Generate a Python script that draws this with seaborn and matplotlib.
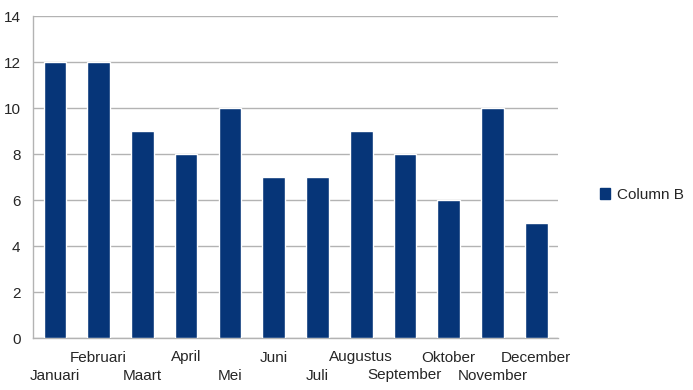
import numpy as np
import pandas as pd
import matplotlib
matplotlib.use('Agg')
import matplotlib.pyplot as plt
import matplotlib.transforms as mtrans
import seaborn as sns
from matplotlib.patches import Patch

# Data
maanden = ['Januari', 'Februari', 'Maart', 'April', 'Mei', 'Juni', 'Juli',
           'Augustus', 'September', 'Oktober', 'November', 'December']
waarden = [12, 12, 9, 8, 10, 7, 7, 9, 8, 6, 10, 5]
y_ticks = [0, 2, 4, 6, 8, 10, 12, 14]

df = pd.DataFrame({'maand': maanden, 'waarde': waarden})

sns.set_style('white')
plt.rcParams['font.family'] = ['Liberation Sans', 'DejaVu Sans']

bar_color = '#063578'
grid_color = '#b3b3b3'

fig = plt.figure(figsize=(6.93, 3.90), dpi=100)
ax = fig.add_axes([33 / 693, 1 - 338 / 390, (558 - 33) / 693, (338 - 16) / 390])

sns.barplot(data=df, x='maand', y='waarde', color=bar_color, width=0.52,
            saturation=1, ax=ax, zorder=3)

ax.set_xlim(-0.5, len(maanden) - 0.5)
ax.set_ylim(0, 14)
ax.set_yticks(y_ticks)
ax.set_xlabel('')
ax.set_ylabel('')

ax.set_xticks(range(len(maanden)))
ax.set_xticklabels(maanden, fontsize=11)
ax.set_xticks(np.arange(-0.5, len(maanden), 1), minor=True)
ax.tick_params(axis='x', which='major', length=0, pad=9)
ax.tick_params(axis='x', which='minor', length=6, color=grid_color, width=1, direction='out')
ax.tick_params(axis='y', length=6, color=grid_color, width=1, labelsize=11, pad=3)

# gestaffelde labels: even posities een regel lager
shift = mtrans.ScaledTranslation(0, -18 / 100, fig.dpi_scale_trans)
for i, lbl in enumerate(ax.get_xticklabels()):
    if i % 2 == 0:
        lbl.set_transform(lbl.get_transform() + shift)

ax.yaxis.grid(True, color=grid_color, linewidth=1)
ax.set_axisbelow(True)
for side in ['top', 'right']:
    ax.spines[side].set_visible(False)
for side in ['left', 'bottom']:
    ax.spines[side].set_color(grid_color)
    ax.spines[side].set_linewidth(1)

fig.legend(handles=[Patch(color=bar_color, label='Column B')],
           loc='center left', bbox_to_anchor=(586 / 693, 1 - 195 / 390),
           frameon=False, fontsize=11, handlelength=0.7, handleheight=0.7,
           handletextpad=0.4)

fig.savefig('out.png', dpi=100)
